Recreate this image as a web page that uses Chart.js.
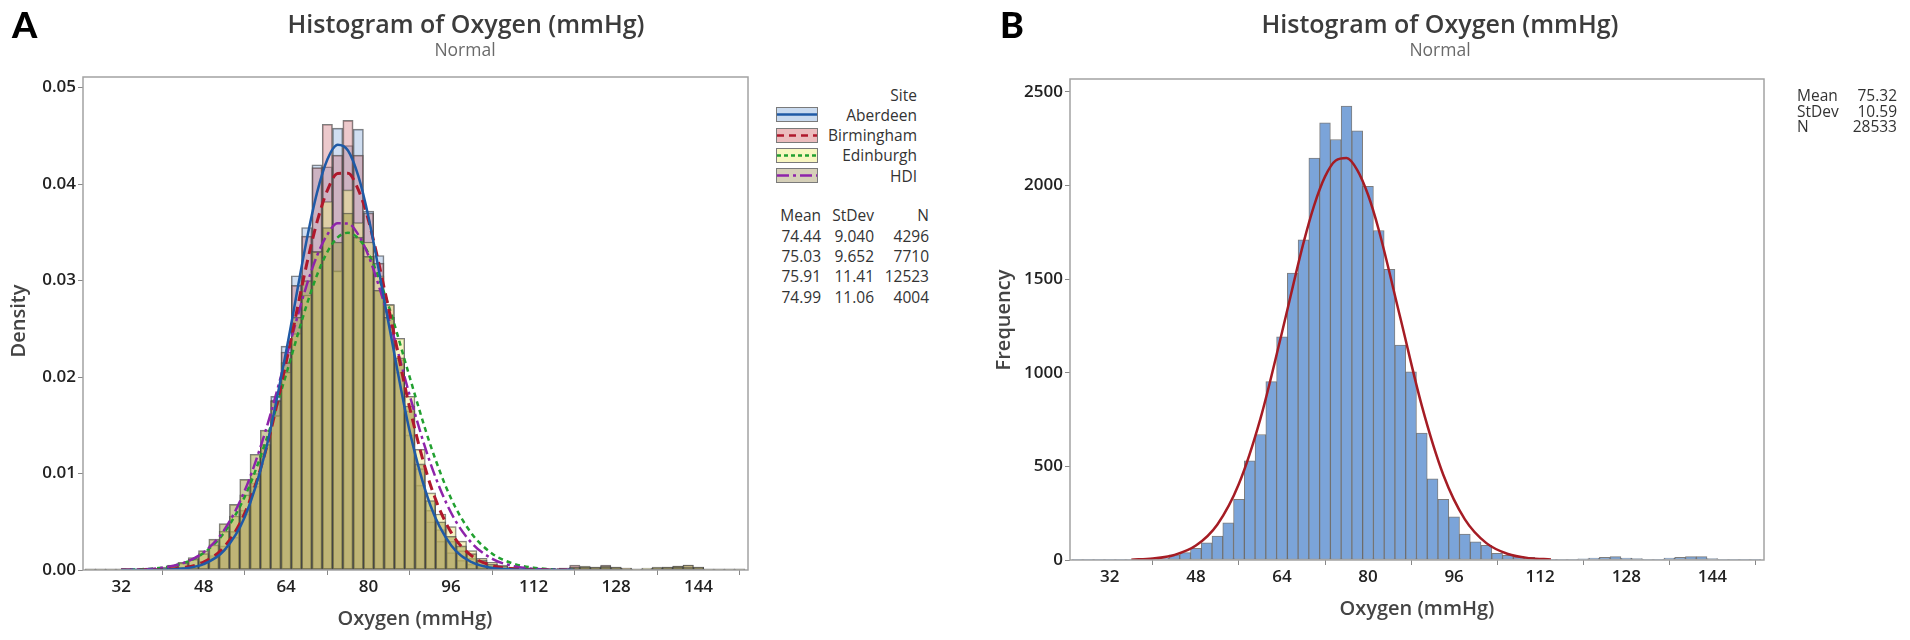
<!DOCTYPE html>
<html><head><meta charset="utf-8">
<script src="https://cdn.jsdelivr.net/npm/chart.js@4.4.1/dist/chart.umd.min.js"></script>
<style>
html,body{margin:0;padding:0;background:#fff;}
body{width:1910px;height:640px;position:relative;overflow:hidden;font-family:"Open Sans",sans-serif;color:#333;}
.t{position:absolute;white-space:nowrap;}
.title{font-size:25px;font-weight:600;color:#3c3c3c;line-height:30px;text-align:center;width:440px;}
.sub{font-size:17.5px;font-weight:400;color:#6a6a6a;line-height:22px;text-align:center;width:200px;}
.panel{font-family:"Lato","Liberation Sans",sans-serif;font-weight:900;font-size:36px;line-height:44px;color:#000;}
.axt{font-size:20px;font-weight:600;color:#444;line-height:24px;text-align:center;width:240px;}
.lg{font-size:15.5px;color:#333;line-height:20px;text-align:right;}
.sw{position:absolute;width:42px;height:15px;}
</style></head><body>
<div style="position:absolute;left:0;top:0;width:760px;height:640px;"><canvas id="cA"></canvas></div>
<div style="position:absolute;left:960px;top:0;width:950px;height:640px;"><canvas id="cB"></canvas></div>

<div class="t panel" style="left:12px;top:2px;">A</div>
<div class="t panel" style="left:1000px;top:2px;">B</div>

<div class="t title" style="left:246px;top:8px;">Histogram of Oxygen (mmHg)</div>
<div class="t sub" style="left:365px;top:38px;">Normal</div>
<div class="t title" style="left:1220px;top:8px;">Histogram of Oxygen (mmHg)</div>
<div class="t sub" style="left:1340px;top:38px;">Normal</div>

<div class="t axt" style="left:-102px;top:309px;transform:rotate(-90deg);">Density</div>
<div class="t axt" style="left:883px;top:308px;transform:rotate(-90deg);">Frequency</div>
<div class="t axt" style="left:295px;top:606px;">Oxygen (mmHg)</div>
<div class="t axt" style="left:1297px;top:596px;">Oxygen (mmHg)</div>

<!-- Legend panel A -->
<div class="t lg" style="right:993px;top:85px;">Site</div>
<div class="t lg" style="right:993px;top:105px;">Aberdeen</div>
<div class="t lg" style="right:993px;top:125px;">Birmingham</div>
<div class="t lg" style="right:993px;top:145px;">Edinburgh</div>
<div class="t lg" style="right:993px;top:166px;">HDI</div>
<svg class="sw" style="left:776px;top:107px;" width="42" height="15"><rect x="0.5" y="0.5" width="41" height="14" fill="#c9daef" stroke="#7a7a7a"/><line x1="1" y1="7.5" x2="41" y2="7.5" stroke="#1f5aa6" stroke-width="2.5"/></svg>
<svg class="sw" style="left:776px;top:127.5px;" width="42" height="15"><rect x="0.5" y="0.5" width="41" height="14" fill="#ebbcbd" stroke="#7a7a7a"/><line x1="1" y1="7.5" x2="41" y2="7.5" stroke="#b0182c" stroke-width="2.5" stroke-dasharray="7,5"/></svg>
<svg class="sw" style="left:776px;top:147.5px;" width="42" height="15"><rect x="0.5" y="0.5" width="41" height="14" fill="#f8f6c0" stroke="#7a7a7a"/><line x1="1" y1="7.5" x2="41" y2="7.5" stroke="#22a030" stroke-width="2.5" stroke-dasharray="4,3"/></svg>
<svg class="sw" style="left:776px;top:168px;" width="42" height="15"><rect x="0.5" y="0.5" width="41" height="14" fill="#d5cfb8" stroke="#7a7a7a"/><line x1="1" y1="7.5" x2="41" y2="7.5" stroke="#8e24aa" stroke-width="2.5" stroke-dasharray="12,4,3,4"/></svg>

<div id="statsA"></div>
<div id="statsB"></div>

<script>
// ---------- DATA ----------
const binCenters = [26,28,30,32,34,36,38,40,42,44,46,48,50,52,54,56,58,60,62,64,66,68,70,72,74,76,78,80,82,84,86,88,90,92,94,96,98,100,102,104,106,108,110,112,114,116,118,120,122,124,126,128,130,132,134,136,138,140,142,144,146,148,150,152];
const xTickLabels = [32,48,64,80,96,112,128,144];
const yTicksA = [0,0.01,0.02,0.03,0.04,0.05];
const yTicksB = [0,500,1000,1500,2000,2500];

const siteNames = ["Aberdeen","Birmingham","Edinburgh","HDI"];
const siteMean = ["74.44","75.03","75.91","74.99"];
const siteStDev = ["9.040","9.652","11.41","11.06"];
const siteN = ["4296","7710","12523","4004"];

const densAberdeen = [0.0001,0.0001,0.0001,0.0001,0.0001,0.0001,0.0001,
 0.0001,0.0002,0.0003,0.0005,0.0008,0.0013,0.0022,0.0034,0.0058,0.0087,0.0128,0.0180,0.0232,0.0305,0.0355,0.0420,0.0418,0.0458,0.0440,0.0457,0.0372,0.0326,0.0262,0.0205,0.0140,0.0088,0.0050,0.0030,0.0018,0.0010,0.0006,0.0003,0.0002,0.0001,0.0001,0.0001,0.0001,
 0.0001,0.0001,0.0001,0.0003,0.0002,0.0002,0.0003,0.0002,0.0001,0.0001,0.0001,0.0001,0.0002,0.0003,0.0002,0.0001,0.0001,0.0001,0.0001,0.0001];
const densBirmingham = [0.0001,0.0001,0.0001,0.0001,0.0001,0.0001,0.0001,
 0.0001,0.0002,0.0003,0.0005,0.0009,0.0015,0.0025,0.0040,0.0062,0.0090,0.0130,0.0176,0.0226,0.0295,0.0346,0.0417,0.0462,0.0430,0.0466,0.0430,0.0370,0.0318,0.0275,0.0218,0.0165,0.0105,0.0062,0.0042,0.0030,0.0020,0.0012,0.0008,0.0004,0.0002,0.0001,0.0001,0.0001,
 0.0001,0.0001,0.0002,0.0005,0.0003,0.0003,0.0005,0.0003,0.0002,0.0001,0.0001,0.0002,0.0003,0.0004,0.0005,0.0003,0.0001,0.0001,0.0001,0.0001];
const densEdinburgh = [0.0001,0.0001,0.0001,0.0001,0.0001,0.0001,0.0001,
 0.0003,0.0004,0.0007,0.0011,0.0017,0.0026,0.0040,0.0056,0.0078,0.0100,0.0130,0.0160,0.0205,0.0245,0.0285,0.0330,0.0382,0.0310,0.0394,0.0360,0.0340,0.0305,0.0275,0.0240,0.0180,0.0125,0.0080,0.0058,0.0045,0.0030,0.0020,0.0012,0.0008,0.0005,0.0003,0.0002,0.0002,
 0.0001,0.0001,0.0002,0.0003,0.0004,0.0003,0.0004,0.0003,0.0002,0.0001,0.0002,0.0003,0.0003,0.0004,0.0005,0.0003,0.0001,0.0001,0.0001,0.0001];
const densHDI = [0.0001,0.0001,0.0001,0.0001,0.0001,0.0001,0.0001,
 0.0002,0.0005,0.0008,0.0013,0.0020,0.0032,0.0048,0.0068,0.0094,0.0120,0.0145,0.0175,0.0215,0.0262,0.0300,0.0330,0.0355,0.0340,0.0370,0.0345,0.0325,0.0290,0.0262,0.0220,0.0170,0.0110,0.0072,0.0050,0.0035,0.0025,0.0017,0.0010,0.0006,0.0004,0.0002,0.0001,0.0001,
 0.0001,0.0001,0.0001,0.0002,0.0003,0.0002,0.0003,0.0002,0.0001,0.0001,0.0001,0.0002,0.0002,0.0003,0.0003,0.0002,0.0001,0.0001,0.0001,0.0001];

const curveXA = [32,36,40,44,48,52,56,60,64,68,70,72,74,76,78,80,84,88,92,96,100,104,108,112,116,120];
const fitAberdeen = [0,0.00001,0.00003,0.00015,0.00061,0.00203,0.00551,0.01232,0.02265,0.03423,0.03912,0.04255,0.04408,0.04348,0.04084,0.03653,0.02523,0.01432,0.00669,0.00257,0.00081,0.00021,0.00005,0.00001,0,0];
const fitBirmingham = [0,0.00001,0.00006,0.00024,0.00082,0.0024,0.00592,0.01229,0.02151,0.0317,0.03608,0.03934,0.04109,0.04112,0.03942,0.0362,0.02683,0.01676,0.00881,0.0039,0.00146,0.00046,0.00012,0.00003,0.00001,0];
const fitEdinburgh = [0.00002,0.00008,0.00025,0.0007,0.00176,0.00389,0.00763,0.01323,0.02028,0.02749,0.03058,0.03297,0.03447,0.03496,0.03438,0.03279,0.02719,0.01994,0.01294,0.00742,0.00377,0.00169,0.00067,0.00024,0.00007,0.00002];
const fitHDI = [0.00002,0.00007,0.00024,0.00071,0.00184,0.00416,0.00826,0.01439,0.02201,0.02954,0.03258,0.03477,0.03593,0.03592,0.03476,0.03255,0.02588,0.01805,0.01105,0.00593,0.0028,0.00116,0.00042,0.00013,0.00004,0.00001];

const freqAll = [2,2,2,2,2,3,3,5,10,27,39,62,92,128,199,324,530,670,952,1191,1532,1709,2146,2334,2245,2423,2291,1995,1759,1552,1148,1005,678,434,324,230,138,97,78,35,25,18,14,8,4,3,3,6,10,14,18,10,8,3,4,10,14,18,18,8,3,2,2,2];
const curveXB = [36,40,44,48,52,56,60,64,68,70,72,74,76,78,80,82,86,90,94,98,102,106,110,114];
const fitAll = [2,8,27,77,190,407,755,1215,1693,1895,2047,2133,2146,2082,1950,1762,1293,823,454,217,90,32,10,3];
const statsB = [["Mean","75.32"],["StDev","10.59"],["N","28533"]];

// ---------- TEXT TABLES ----------
(function(){
  const a = document.getElementById('statsA');
  const rowsY = [215,236,256,276,296.5];
  const cols = [1089,1036,981];
  const header = ["Mean","StDev","N"];
  let html = '';
  const rows = [header].concat(siteMean.map((m,i)=>[m,siteStDev[i],siteN[i]]));
  rows.forEach((r,ri)=>{
    r.forEach((txt,ci)=>{
      html += `<div class="t lg" style="right:${cols[ci]}px;top:${rowsY[ri]-10}px;">${txt}</div>`;
    });
  });
  a.innerHTML = html;
  const b = document.getElementById('statsB');
  const yB = [95,110.5,126];
  let hb = '';
  statsB.forEach((r,i)=>{
    hb += `<div class="t lg" style="left:1797px;top:${yB[i]-10}px;text-align:left;">${r[0]}</div>`;
    hb += `<div class="t lg" style="right:13px;top:${yB[i]-10}px;">${r[1]}</div>`;
  });
  b.innerHTML = hb;
})();

// ---------- CHARTS ----------
const framePlugin = {id:'frame', afterDatasetsDraw(chart){
  const {ctx, chartArea:a} = chart;
  ctx.save(); ctx.strokeStyle='#a3a3a3'; ctx.lineWidth=1.5;
  ctx.strokeRect(a.left, a.top, a.right-a.left, a.bottom-a.top); ctx.restore();
}};
const tickFont = {family:"'Open Sans', sans-serif", size:17, weight:'600'};

function pts(xs, ys){ return xs.map((x,i)=>({x:x, y:ys[i]})); }

function barDs(vals, fill, order){
  return {type:'bar', data:pts(binCenters, vals), backgroundColor:fill, borderColor:'rgba(70,70,70,0.7)',
    borderWidth:1, borderSkipped:false, grouped:false, barPercentage:1, categoryPercentage:1, order:order};
}
function lineDs(xs, vals, color, dash, width, order){
  return {type:'line', data:pts(xs, vals), borderColor:color, borderWidth:width, borderDash:dash,
    pointRadius:0, fill:false, cubicInterpolationMode:'monotone', order:order};
}
function xScale(h){
  return {type:'linear', min:24.6, max:153.6, offset:false,
    afterBuildTicks:(s)=>{ s.ticks = xTickLabels.map(v=>({value:v})); },
    afterFit:(s)=>{ s.height = h; },
    ticks:{font:tickFont, color:'#222', padding:2, autoSkip:false, maxRotation:0, callback:(v)=>String(v)},
    grid:{display:true, drawOnChartArea:false, drawTicks:true, tickLength:5, color:'#888'},
    border:{display:false}};
}
function yScale(w, max, ticks, fmt){
  return {type:'linear', min:0, max:max,
    afterBuildTicks:(s)=>{ s.ticks = ticks.map(v=>({value:v})); },
    afterFit:(s)=>{ s.width = w; },
    ticks:{font:tickFont, color:'#222', padding:2, callback:fmt},
    grid:{display:true, drawOnChartArea:false, drawTicks:true, tickLength:5, color:'#888'},
    border:{display:false}};
}

new Chart(document.getElementById('cA'), {
  type:'bar',
  data:{datasets:[
    lineDs(curveXA, fitAberdeen, '#1f5aa6', [], 2.5, 0),
    lineDs(curveXA, fitBirmingham, '#b0182c', [10,6], 3, 1),
    lineDs(curveXA, fitHDI, '#8e24aa', [12,4,3,4], 2.5, 2),
    lineDs(curveXA, fitEdinburgh, '#22a030', [5,4], 2.5, 3),
    barDs(densHDI, 'rgba(160,155,70,0.5)', 11),
    barDs(densEdinburgh, 'rgba(240,235,140,0.5)', 12),
    barDs(densBirmingham, 'rgba(200,100,110,0.35)', 13),
    barDs(densAberdeen, 'rgba(120,160,215,0.35)', 14)
  ]},
  options:{responsive:true, maintainAspectRatio:false, animation:false,
    layout:{padding:{left:0, top:77, right:12, bottom:0}},
    plugins:{legend:{display:false}, tooltip:{enabled:false}},
    scales:{x:xScale(70), y:yScale(83, 0.0511, yTicksA, (v)=>Number(v).toFixed(2))}
  },
  plugins:[framePlugin]
});

new Chart(document.getElementById('cB'), {
  type:'bar',
  data:{datasets:[
    lineDs(curveXB, fitAll, '#a51c24', [], 2.5, 0),
    barDs(freqAll, '#7ba4d9', 5)
  ]},
  options:{responsive:true, maintainAspectRatio:false, animation:false,
    layout:{padding:{left:0, top:79, right:146, bottom:0}},
    plugins:{legend:{display:false}, tooltip:{enabled:false}},
    scales:{x:xScale(80), y:yScale(110, 2568, yTicksB, (v)=>String(v))}
  },
  plugins:[framePlugin]
});
</script>
</body></html>
